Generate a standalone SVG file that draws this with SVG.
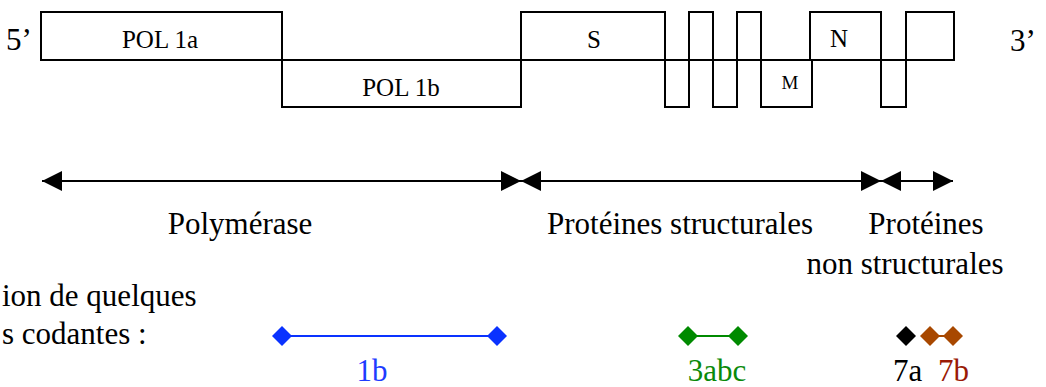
<svg xmlns="http://www.w3.org/2000/svg" width="1046" height="387" viewBox="0 0 1046 387" font-family="'Liberation Serif', 'Times New Roman', 'DejaVu Serif', serif">
<style>
text{font-family:'Liberation Serif','Times New Roman','DejaVu Serif',serif;fill:#000}
.seg{fill:#fff;stroke:#000;stroke-width:2}
.lbl{font-size:25px;text-anchor:middle}
.big{font-size:31px}
.mid{text-anchor:middle}
.conn{stroke:#000;stroke-width:2;fill:none;marker-start:url(#ah);marker-end:url(#ah)}
</style>
<defs>
<marker id="ah" viewBox="0 0 20 20" refX="20" refY="10" markerWidth="20" markerHeight="20" markerUnits="userSpaceOnUse" orient="auto-start-reverse">
<path d="M0,0 L20,10 L0,20 Z" fill="#000"/>
</marker>
<path id="dia" d="M-10,0 L0,-10 L10,0 L0,10 Z"/>
</defs>
<rect width="1046" height="387" fill="#fff"/>
<text class="big" x="6" y="50">5’</text>
<text class="big" x="1010" y="51">3’</text>
<g id="pol1a"><rect class="seg" x="41" y="12" width="241" height="48"/><text class="lbl" x="160" y="48">POL 1a</text></g>
<g id="pol1b"><rect class="seg" x="282" y="60" width="239" height="47"/><text class="lbl" x="401" y="96">POL 1b</text></g>
<g id="s"><rect class="seg" x="521" y="12" width="144" height="48"/><text class="lbl" x="594" y="48">S</text></g>
<g id="orf-l1"><rect class="seg" x="665" y="60" width="24" height="47"/></g>
<g id="orf-u1"><rect class="seg" x="689" y="12" width="24" height="48"/></g>
<g id="orf-l2"><rect class="seg" x="713" y="60" width="24" height="47"/></g>
<g id="orf-u2"><rect class="seg" x="737" y="12" width="24" height="48"/></g>
<g id="m"><rect class="seg" x="761" y="60" width="51" height="47"/><text class="lbl" x="790" y="89" style="font-size:19px">M</text></g>
<g id="n"><rect class="seg" x="810" y="12" width="71" height="48"/><text class="lbl" x="839" y="47">N</text></g>
<g id="orf-l3"><rect class="seg" x="881" y="60" width="25" height="47"/></g>
<g id="orf-u3"><rect class="seg" x="906" y="12" width="48" height="48"/></g>
<g id="connectors">
<line class="conn" x1="42" y1="181" x2="521" y2="181"/>
<line class="conn" x1="521" y1="181" x2="881" y2="181"/>
<line class="conn" x1="881" y1="181" x2="953" y2="181"/>
</g>
<g id="labels">
<text class="big mid" x="240" y="234">Polymérase</text>
<text class="big mid" x="680" y="234">Protéines structurales</text>
<text class="big mid" x="926" y="234">Protéines</text>
<text class="big mid" x="905" y="274">non structurales</text>
<text class="big" x="2" y="306">ion de quelques</text>
<text class="big" x="2" y="344">s codantes :</text>
</g>
<g id="gene-1b">
<line x1="282" y1="336" x2="497" y2="336" stroke="#0a32ff" stroke-width="2"/>
<use href="#dia" x="282" y="336" fill="#0a32ff"/>
<use href="#dia" x="497" y="336" fill="#0a32ff"/>
<text class="big mid" x="372" y="381" style="fill:#1e3cff">1b</text>
</g>
<g id="gene-3abc">
<line x1="688" y1="336" x2="738" y2="336" stroke="#008a00" stroke-width="2"/>
<use href="#dia" x="688" y="336" fill="#008a00"/>
<use href="#dia" x="738" y="336" fill="#008a00"/>
<text class="big mid" x="717" y="381" style="fill:#0a8a0a">3abc</text>
</g>
<g id="gene-7a">
<use href="#dia" x="906" y="336" fill="#000"/>
<text class="big" x="893" y="381">7a</text>
</g>
<g id="gene-7b">
<line x1="930" y1="336" x2="953" y2="336" stroke="#a84800" stroke-width="2"/>
<use href="#dia" x="930" y="336" fill="#a84800"/>
<use href="#dia" x="953" y="336" fill="#a84800"/>
<text class="big" x="938" y="381" style="fill:#9a1a05">7b</text>
</g>
</svg>
